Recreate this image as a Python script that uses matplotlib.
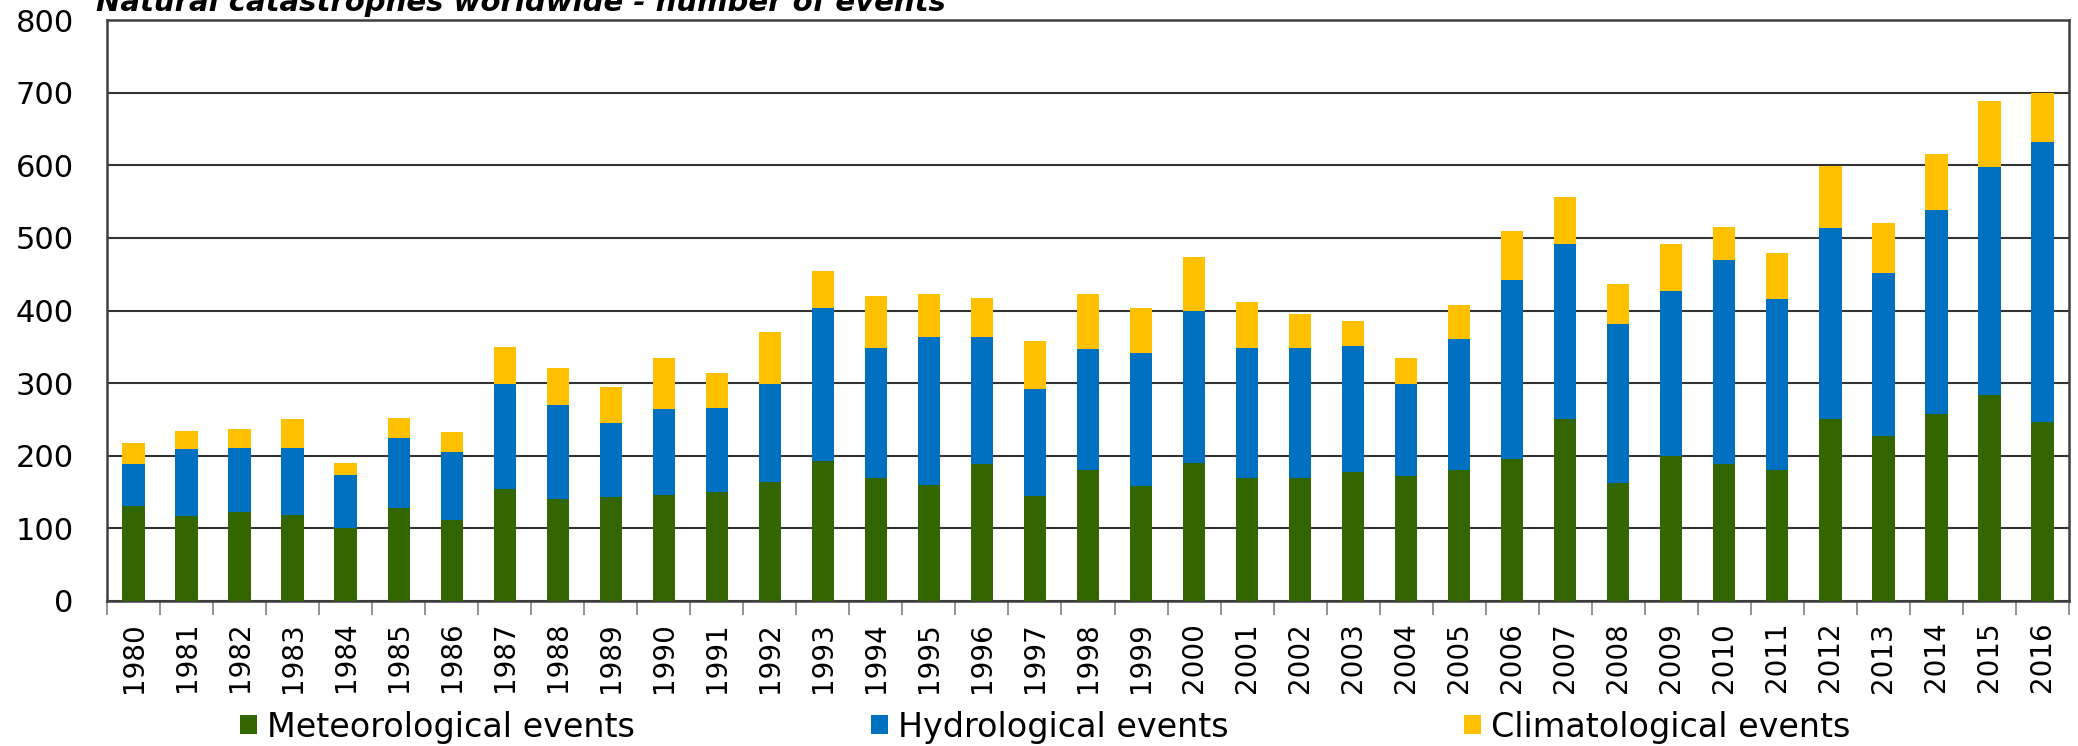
# Natural catastrophes worldwide - stacked bars
import numpy as np
import matplotlib
matplotlib.use('Agg')
import matplotlib.pyplot as plt
from matplotlib.patches import Patch

# Data
years = [str(y) for y in range(1980, 2017)]
meteorological = [131, 117, 122, 119, 100, 128, 111, 154, 141, 143, 146,
                  150, 164, 193, 170, 160, 188, 145, 180, 158, 190,
                  169, 170, 177, 172, 180, 195, 250, 162, 200, 188,
                  180, 251, 227, 258, 284, 247]
hydrological_top = [189, 209, 211, 211, 173, 224, 205, 299, 270, 245, 264,
                    266, 299, 403, 349, 363, 363, 292, 347, 342, 400,
                    349, 348, 351, 299, 361, 442, 492, 382, 427, 470,
                    416, 514, 452, 539, 598, 632]
totals = [217, 234, 237, 251, 190, 252, 233, 350, 321, 295, 334,
          314, 371, 454, 420, 423, 417, 358, 423, 403, 474,
          412, 395, 386, 334, 407, 510, 556, 436, 491, 515,
          479, 599, 520, 615, 689, 700]

hydrological = [h - m for h, m in zip(hydrological_top, meteorological)]
climatological = [t - h for t, h in zip(totals, hydrological_top)]

labels = ['Meteorological events', 'Hydrological events', 'Climatological events']
colors = ['#336600', '#0070C0', '#FFC000']

plt.rcParams['font.family'] = ['DejaVu Sans']

fig = plt.figure(figsize=(20.78, 7.46), dpi=100)
ax = fig.add_axes([107/2078, 1 - 601/746, (2069 - 107)/2078, (601 - 20)/746])

x = np.arange(len(years))
w = 0.42
ax.bar(x, meteorological, w, color=colors[0], zorder=3)
ax.bar(x, hydrological, w, bottom=meteorological, color=colors[1], zorder=3)
ax.bar(x, climatological, w, bottom=hydrological_top, color=colors[2], zorder=3)

ax.set_xlim(-0.5, len(years) - 0.5)
ax.set_ylim(0, 800)
ax.set_yticks(range(0, 801, 100))
ax.yaxis.grid(True, color='#333333', linewidth=1.5, zorder=1)
ax.set_axisbelow(True)

ax.set_xticks(x)
ax.set_xticklabels(years, rotation=90, fontsize=20)
ax.set_xticks(np.arange(-0.5, len(years)), minor=True)
ax.tick_params(axis='x', which='major', length=0, pad=15)
ax.tick_params(axis='x', which='minor', length=10, width=1.2, color='#808080')
ax.tick_params(axis='y', length=0, pad=24, labelsize=22)

for s in ax.spines.values():
    s.set_color('#404040')
    s.set_linewidth(1.8)

# title, partly cut off at the top like the original
fig.text(96/2078, 1 - 11/746, 'Natural catastrophes worldwide - number of events',
         fontsize=21, fontweight='bold', fontstyle='italic', va='baseline', ha='left')

# legend entries placed like the original
legend_x = [240, 871, 1464]
for lab, col, lx in zip(labels, colors, legend_x):
    leg = fig.legend(handles=[Patch(facecolor=col)], labels=[lab],
                     loc='center left', bbox_to_anchor=(lx/2078, 1 - 727/746),
                     frameon=False, fontsize=24, handlelength=0.5, handleheight=0.5,
                     handletextpad=0.3, borderpad=0, borderaxespad=0)

fig.savefig('out.png', dpi=100)
